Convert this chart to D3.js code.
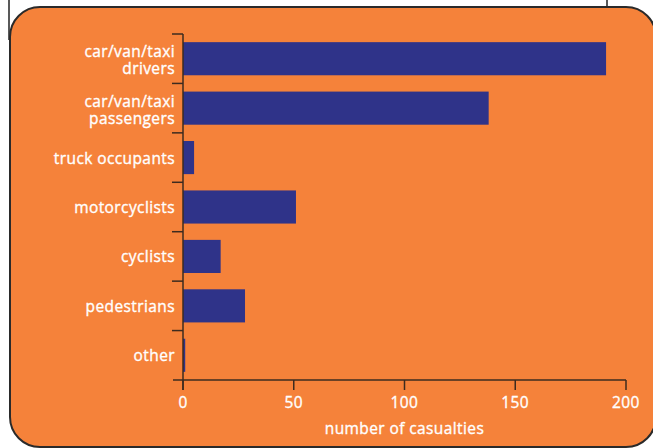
<!DOCTYPE html>
<html>
<head>
<meta charset="utf-8">
<script src="https://cdn.jsdelivr.net/npm/d3@7"></script>
<style>
  body { margin: 0; background: #fff; }
  svg { display: block; }
  text { font-family: "Open Sans", "Noto Sans", sans-serif; fill: #fff; stroke: #fff; stroke-width: 0.35px; letter-spacing: 0.4px; }
</style>
</head>
<body>
<div id="chart"></div>
<script>
// road casualties by user type
const categories = [
  ["car/van/taxi", "drivers"],
  ["car/van/taxi", "passengers"],
  ["truck occupants"],
  ["motorcyclists"],
  ["cyclists"],
  ["pedestrians"],
  ["other"]
];
const casualties = [191, 138, 5, 51, 17, 28, 1];
const xTicks = [0, 50, 100, 150, 200];
const xTitle = "number of casualties";

const W = 653, H = 448;
const margin = {top: 34, right: 27, bottom: 68, left: 183};
const width = 626 - margin.left,
    height = 380 - margin.top;

const svg = d3.select("#chart")
  .append("svg")
    .attr("width", W)
    .attr("height", H);

// bits of the old frame peeking out above the panel
svg.append("line")
  .attr("x1", 9).attr("x2", 9).attr("y1", 0).attr("y2", 40)
  .attr("stroke", "#222").attr("stroke-width", 1.5);
svg.append("line")
  .attr("x1", 607).attr("x2", 607).attr("y1", 0).attr("y2", 10)
  .attr("stroke", "#222").attr("stroke-width", 1.5);

// orange panel
svg.append("rect")
  .attr("x", 10).attr("y", 7)
  .attr("width", 646).attr("height", 440)
  .attr("rx", 30).attr("ry", 30)
  .attr("fill", "#F5823A")
  .attr("stroke", "#2a2a2a")
  .attr("stroke-width", 2);

const g = svg.append("g")
  .attr("transform", "translate(" + margin.left + "," + margin.top + ")");

const x = d3.scaleLinear()
  .domain([0, 200])
  .range([0, width]);

const y = d3.scaleBand()
  .domain(d3.range(categories.length))
  .range([0, height])
  .paddingInner(0.33)
  .paddingOuter(0.165);

// bars
g.selectAll(".bar")
  .data(casualties)
  .enter().append("rect")
    .attr("class", "bar")
    .attr("x", x(0))
    .attr("y", (d, i) => y(i))
    .attr("width", d => x(d) - x(0))
    .attr("height", y.bandwidth())
    .attr("fill", "#2F3389");

const axisColor = "#3d2b1f";

// y axis: line and ticks between categories
const step = height / categories.length;
g.append("line")
  .attr("x1", 0).attr("x2", 0)
  .attr("y1", 0).attr("y2", height + 10)
  .attr("stroke", axisColor).attr("stroke-width", 1.5);
g.selectAll(".ytick")
  .data(d3.range(categories.length))
  .enter().append("line")
    .attr("x1", -11).attr("x2", 0)
    .attr("y1", i => i * step).attr("y2", i => i * step)
    .attr("stroke", axisColor).attr("stroke-width", 1.5);

// category labels
g.selectAll(".ylab")
  .data(categories)
  .enter().append("text")
    .attr("text-anchor", "end")
    .attr("font-size", 15.5)
    .attr("transform", (d, i) => "translate(-8," + (y(i) + y.bandwidth() / 2) + ")")
    .each(function(d) {
      const t = d3.select(this);
      const lh = 17;
      d.forEach((line, k) => {
        t.append("tspan")
          .attr("x", 0)
          .attr("y", (k - (d.length - 1) / 2) * lh + (d.length > 1 ? 7 : 6))
          .text(line);
      });
    });

// x axis
const xAxis = g.append("g")
  .attr("transform", "translate(0," + height + ")");
xAxis.append("line")
  .attr("x1", -10).attr("x2", width)
  .attr("stroke", axisColor).attr("stroke-width", 1.5);
xAxis.selectAll(".xtick")
  .data(xTicks)
  .enter().append("line")
    .attr("x1", d => x(d)).attr("x2", d => x(d))
    .attr("y1", 0).attr("y2", 10)
    .attr("stroke", axisColor).attr("stroke-width", 1.5);
xAxis.selectAll(".xlab")
  .data(xTicks)
  .enter().append("text")
    .attr("x", d => x(d))
    .attr("y", 28)
    .attr("text-anchor", "middle")
    .attr("font-size", 15.5)
    .text(d => d);

g.append("text")
  .attr("x", width / 2)
  .attr("y", height + 54)
  .attr("text-anchor", "middle")
  .attr("font-size", 15.5)
  .text(xTitle);
</script>
</body>
</html>
